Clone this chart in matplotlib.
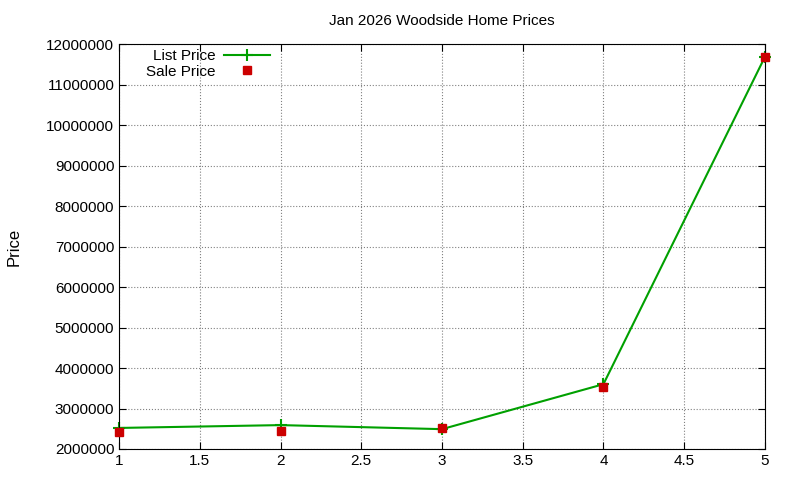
import matplotlib
matplotlib.use("Agg")
import matplotlib.pyplot as plt

x = [1, 2, 3, 4, 5]
list_price = [2520000, 2590000, 2490000, 3600000, 11680000]
sale_price = [2420000, 2440000, 2520000, 3530000, 11680000]
xticks = [1, 1.5, 2, 2.5, 3, 3.5, 4, 4.5, 5]
yticks = list(range(2000000, 12000001, 1000000))

plt.rcParams['font.family'] = ['Liberation Sans', 'DejaVu Sans']
fig = plt.figure(figsize=(8, 4.8), dpi=100)
ax = fig.add_axes([0.149, 0.0646, 0.807, 0.8434])
ax.plot(x, list_price, color='#00a000', lw=1.5, marker='+', ms=9, mew=1.5, label='List Price', clip_on=False)
ax.plot(x, sale_price, ls='none', marker='s', color='#cc0000', ms=6, label='Sale Price', clip_on=False, zorder=3)
ax.set_xlim(1, 5)
ax.set_ylim(2000000, 12000000)
ax.set_xticks(xticks)
ax.set_xticklabels([f"{t:g}" for t in xticks])
ax.set_yticks(yticks)
ax.set_yticklabels([str(t) for t in yticks])
ax.tick_params(direction='in', labelsize=11, top=True, right=True, length=5)
ax.grid(True, ls=':', color='#808080', lw=0.8)
ax.set_ylabel('Price', fontsize=12, labelpad=18)
ax.set_title('Jan 2026 Woodside Home Prices', fontsize=11, pad=14)
leg = ax.legend(loc='upper left', bbox_to_anchor=(0.027, 1.01), frameon=False, markerfirst=False,
                fontsize=11, handlelength=3, borderaxespad=0.2, labelspacing=0.1, handletextpad=0.6)
for t in leg.get_texts():
    t.set_ha('right')
fig.savefig('out.png')
